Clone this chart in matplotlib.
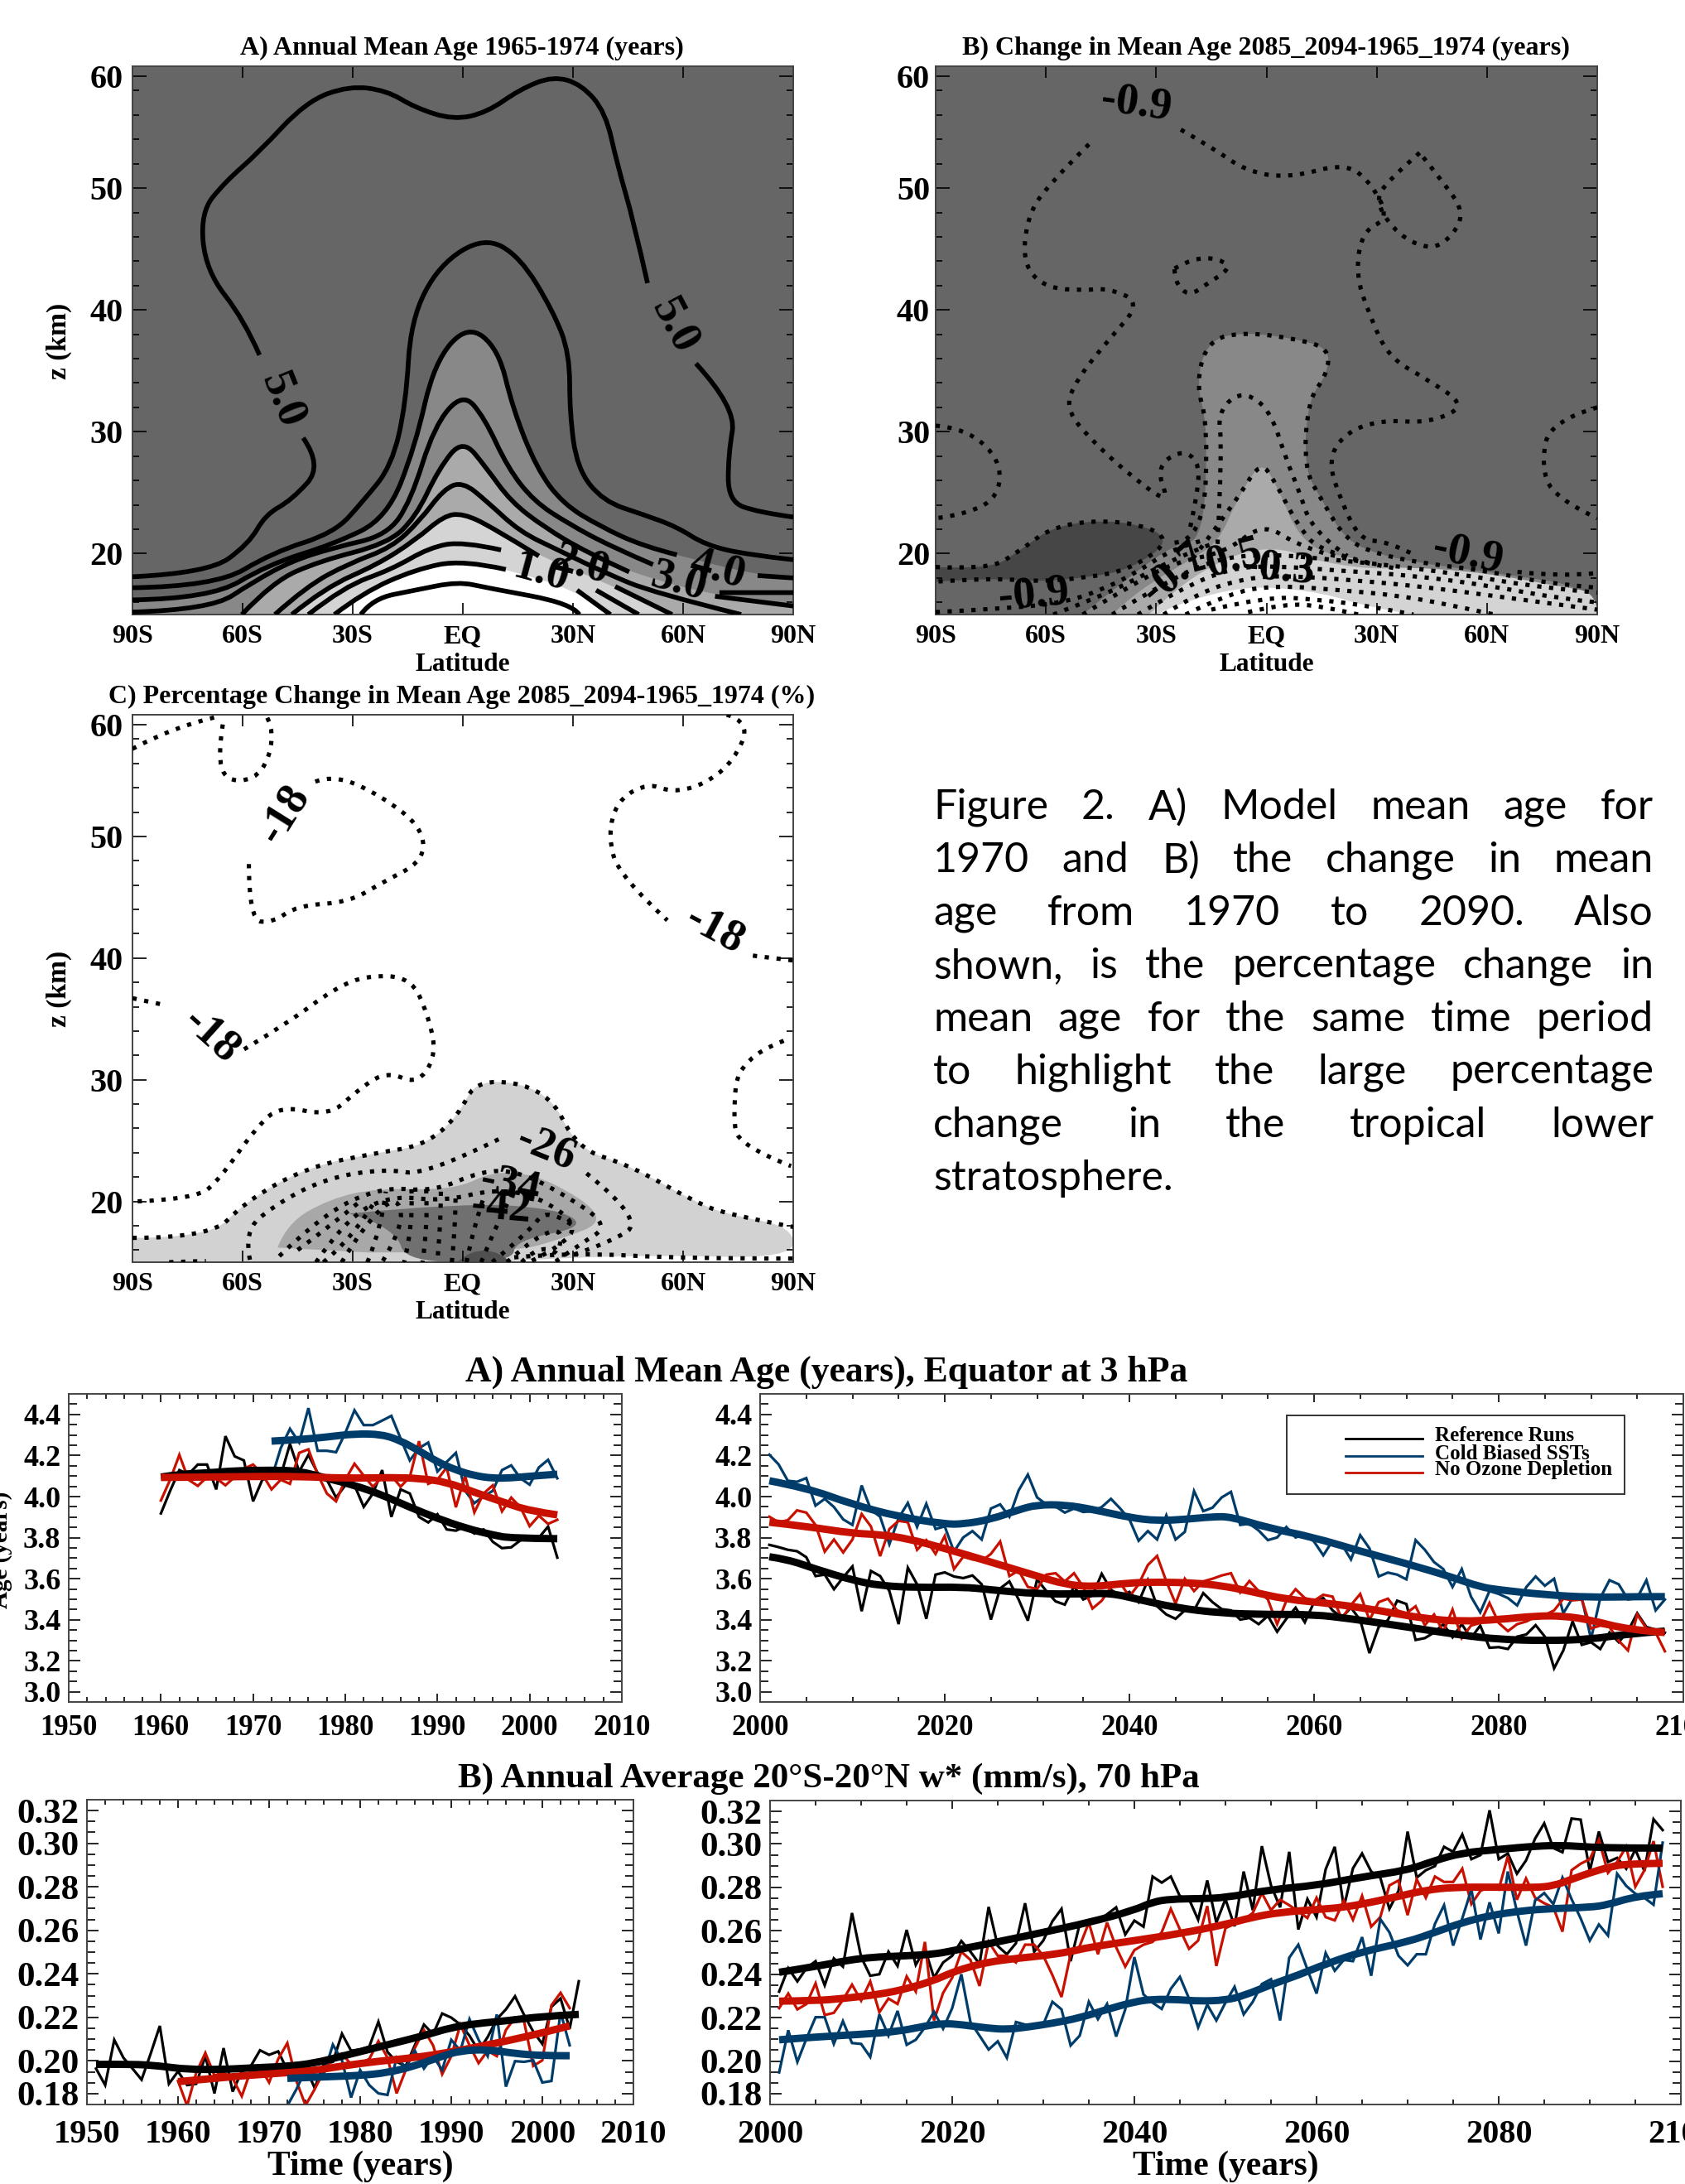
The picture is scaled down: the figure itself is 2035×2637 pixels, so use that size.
import numpy as np
import matplotlib
matplotlib.use("Agg")
import matplotlib.pyplot as plt
from matplotlib.lines import Line2D
from matplotlib.patches import PathPatch, Rectangle
from matplotlib.path import Path

W = 2035
H = 2637
nan = np.nan
plt.rcParams['font.family'] = ['Liberation Serif', 'DejaVu Serif']
plt.rcParams['font.weight'] = 'bold'

NAVY = '#003c6a'
RED = '#c81000'

# panel A contours (lat, z)
a50 = [[-90, 18.1], [-69.3, 18.4], [-58.3, 20.8], [-53.8, 23.2], [-46.6, 24.4], [-38.2, 27.2], [-43.5, 29.5], [nan, nan],
       [-55.4, 36.3], [-59.6, 39.2], [-70, 43.2], [-71.5, 48], [-64.8, 50.5], [-55.7, 52.9], [-42.7, 57.1], [-31, 58.4],
       [-20.7, 58], [-13, 56.6], [-2.6, 55.6], [6.5, 56.2], [15.5, 58.1], [24.6, 59.2], [32.4, 58.5], [38.9, 56.2],
       [42, 52], [46.6, 47.2], [50.3, 42.2], [nan, nan], [63.5, 35.6], [74.5, 32], [72.3, 28.1], [72.3, 24.3], [80.3, 23.4], [90, 23]]
a45 = [[-90, 17.2], [-67.4, 17.3], [-51.8, 20.1], [-35, 21.7], [-27.2, 24.3], [-19.4, 27.2], [-15.5, 32.3], [-14.2, 39.2],
       [-6.5, 43.7], [5.8, 46], [15.5, 44.4], [24.6, 39.9], [29.1, 36.4], [29.1, 31.6], [31.1, 27], [38.2, 24.3],
       [49.2, 23.2], [58.3, 22.2], [66.1, 20.7], [77.7, 19.9], [90, 19.5]]
a40 = [[-90, 16.2], [-68.7, 16.3], [-53.1, 19.1], [-35, 20.8], [-20.7, 22.9], [-13, 28.8], [-7.8, 35.7], [1.3, 38.8],
       [9.7, 36.8], [13.6, 31.9], [20.1, 27], [27.2, 24.1], [37.6, 22.2], [49.2, 20.6], [58.3, 19.9], [nan, nan], [80.3, 18.2], [90, 18]]
a35 = [[-90, 15.2], [-68.7, 15.4], [-57, 17.7], [-46.6, 19.4], [-35, 20.5], [-20.7, 21.5], [-14.2, 24.3], [-7.8, 30.5],
       [0, 33.2], [5.8, 31.2], [12.3, 27], [19.4, 24.3], [28.5, 22.5], [40.2, 20.6], [51.8, 19.1], [nan, nan], [69.9, 16.8], [90, 16.8]]
a30 = [[-60.2, 15], [-51.8, 17.7], [-38.9, 19.4], [-20.7, 20.8], [-13, 22.9], [-6.5, 27], [0, 29.4], [6.5, 27], [13, 24.3],
       [22, 22.2], [33.7, 20.1], [45.3, 18.5], [nan, nan], [68.7, 16.5], [90, 15.7]]
a25 = [[-51.2, 15], [-42.7, 17.3], [-31, 19.2], [-19.4, 20.5], [-11.7, 22.7], [-5.2, 25.3], [0, 25.9], [6.5, 24.3],
       [15.5, 21.8], [25.9, 20.3], [38.9, 18.4], [51.8, 16.8], [75.8, 15]]
a20 = [[-46.6, 15], [-37.6, 17.2], [-23.3, 19.1], [-13, 21.1], [-5.2, 23.1], [0, 23.3], [7.8, 22.2], [20.7, 19.8], [nan, nan],
       [41.5, 17.3], [57, 15]]
a15 = [[-42.1, 15], [-32.4, 17.3], [-19.4, 18.7], [-9.1, 20.5], [0, 21], [10.4, 20.3], [nan, nan], [36.3, 17], [47.9, 15]]
a10 = [[-35, 15], [-27.2, 16.8], [-13, 18.7], [0, 19.5], [11.7, 18.7], [nan, nan], [31.1, 17], [40.2, 15]]
a05 = [[-27.8, 15], [-24.6, 16.3], [-13, 17], [-1.3, 17.7], [6.5, 17.2], [29.8, 15.9], [31.7, 15]]
a_lines = [a50, a45, a40, a35, a30, a25, a20, a15, a10, a05]
a_labels = [['5.0', -49.2, 32.6, -68], ['5.0', 57.6, 38.7, -62], ['1.0', 21.4, 18.4, -15], ['2.0', 32.4, 19, -15],
            ['3.0', 58.9, 17.7, -15], ['4.0', 69.3, 18.7, -15]]

# panel B contours and shaded areas
b_main = [[-48.3, 53.6], [-60, 50.1], [-65.2, 47.5], [-66.2, 43.7], [-60, 41.8], [-49.6, 41.6], [-43.1, 41.8], [-34, 40.6],
          [-43.1, 37.5], [-51.6, 34.3], [-54.8, 31.9], [-47, 29.1], [-35.4, 26], [-26.3, 24.1], [-30, 27], [-23.7, 28.5],
          [-18.5, 27.7], [-18.5, 25.2], [-21, 21.8]]
b_top = [[-23.3, 54.8], [-14.6, 53.3], [-5.6, 51.4], [6.1, 50.8], [21.6, 52.1], [28.8, 50.3], [33.3, 47.5], [26.2, 46.5],
         [24.2, 43], [28.1, 39.5], [33.3, 36.1], [43.7, 34.3], [54.7, 32.1], [43.7, 30.7], [32, 31], [21.6, 30], [16.7, 27.7],
         [20.3, 24.3], [25.5, 21.1], [33, 21], [41, 19.8], [nan, nan], [68.3, 18.5], [80, 18.1], [90, 18.4]]
b_loop1 = [[41.7, 52.9], [33.3, 50.7], [29.4, 48.9], [35.9, 46.1], [44.9, 44.9], [50.8, 46.1], [53.8, 48.1], [47.5, 50.7], [41.7, 52.9]]
b_loop2 = [[-25, 43.4], [-19.8, 44.3], [-12.7, 44.2], [-9.7, 43.4], [-15.9, 42.2], [-21.1, 41.1], [-25, 42.3], [-25, 43.4]]
b_left = [[-90, 30.5], [-81.9, 30.3], [-72.3, 27.7], [-72.9, 24.6], [-82, 23.2], [-90, 22.9]]
b_right = [[90, 32], [77.3, 30.9], [74.7, 27.4], [78, 24.6], [90, 22.9]]
b_07 = [[-25, 20.9], [-17.2, 21.1], [-15.9, 30.5], [-19.2, 34], [-15.9, 37.5], [-6.2, 38.2], [8.7, 37.6], [17.1, 36.8], [16.5, 34.7],
        [11.3, 32.6], [10.2, 27], [15.2, 24.3], [21.6, 21.1], [30.7, 19.9], [45, 19.1], [60, 18.6], [75, 17.6], [90, 17.2]]
b_05 = [[-13.3, 20.8], [-12, 28.8], [-13.3, 31.6], [-6.9, 33.4], [0.9, 31.9], [5.4, 27.7], [8.7, 25.3], [12.6, 21.8], [22, 19.8]]
b_03 = [[-20, 19.6], [-8.2, 24.3], [-1.7, 27.6], [2.2, 26], [8.7, 22.2], [15, 20.1], [30, 19.1]]
b_dark = [[-90, 18.9], [-75.5, 18.7], [-67.7, 20.1], [-57.4, 22.4], [-39.2, 22.8], [-25, 21.3], [-36.7, 18.7], [-49.6, 18],
          [-62.6, 17.7], [-75, 18], [-90, 17.7]]
b_low = [[[-90, 15.2], [-70, 15.5], [-55, 16], [-45, 17], [-35, 18.5], [-25, 20.5], [-17, 21.1]],
         [[-58, 15], [-45, 16.5], [-35, 18], [-22, 20], [-13, 21]],
         [[-50, 15], [-38, 17.2], [-25, 19.3], [-11, 20.1], [-1, 22.5], [8, 20.8], [20, 19.6], [35, 18.8]],
         [[-42, 15], [-30, 17.2], [-15, 19.5], [0, 20], [18, 19.5], [35, 19], [55, 18.2], [75, 17.2], [90, 16.8]],
         [[-35, 15], [-24, 17], [-10, 18.8], [2, 19], [20, 18.6], [40, 18.2], [60, 17.4], [80, 16.3], [90, 16]],
         [[-28, 15], [-18, 16.9], [-5, 18], [5, 18.2], [25, 17.8], [45, 17.2], [65, 16.4], [90, 15.4]],
         [[-22, 15], [-10, 16.8], [3, 17.4], [20, 17], [35, 16.6], [50, 15.8], [62, 15]],
         [[-15, 15.4], [0, 16.5], [15, 16.2], [28, 15.7], [40, 15]],
         [[-5, 15.2], [5, 15.9], [15, 15.7], [25, 15]]]
b_grey1 = [[-50, 15], [-40, 17.5], [-25, 20.8], [-17.2, 21.1], [-15.9, 30.5], [-19.2, 34], [-15.9, 37.5], [-6.2, 38.2], [8.7, 37.6],
           [17.1, 36.8], [16.5, 34.7], [11.3, 32.6], [10.2, 27], [15.2, 24.3], [21.6, 21.1], [30, 20], [40, 19.3], [60, 18.5], [90, 17.2], [90, 15]]
b_grey2 = [[-42, 15], [-35, 17], [-20, 19.6], [-13, 21], [-8.2, 24.3], [-1.7, 27.6], [2.2, 26], [10, 20.5], [25, 19.5], [40, 18.7],
           [60, 17.8], [90, 16], [90, 15]]
b_grey3 = [[-32, 15], [-25, 17], [-15, 19], [-5, 20.3], [5, 20.4], [12, 19.5], [28, 18.7], [40, 18.9], [60, 18.4], [80, 17.3], [90, 16.8], [90, 15]]
b_white = [[-30, 15], [-23.7, 15.9], [-10.8, 17], [-0.4, 17.3], [15, 16.8], [28, 15.6], [40, 15]]
b_labels = [['-0.9', -35.4, 56.9, -8], ['-0.9', 54.7, 19.9, -12], ['-0.9', -63.2, 16.6, 5], ['-0.7', -25, 18.4, 40],
            ['-0.5', -10.8, 19.4, 15], ['-0.3', 3.5, 18.7, -5]]

# panel C contours and shaded areas
c_lines = [[[-90, 57.2], [-79, 59], [-67.4, 59.8]],
           [[-65.4, 59.2], [-66.7, 56.8], [-64.8, 54.6], [-57, 54.6], [-52.5, 56.5], [-51.8, 59.2], [-53.8, 60]],
           [[-40.2, 54.5], [-35, 55.1], [-22, 53.3], [-11, 50.7], [-10.6, 48], [-22, 46.2], [-31, 44.6], [-45.3, 44.3],
            [-51.8, 42.9], [-58.3, 43.1], [-58.3, 48]],
           [[71.9, 60], [78.4, 59.4], [73.8, 56.2], [66, 54.3], [57, 53.6], [50.5, 54.4], [42.1, 53], [39.5, 50], [42.7, 46.7],
            [55.7, 43.1], [nan, nan], [79, 40.2], [90, 39.8]],
           [[-90, 36.7], [-82.2, 36.2], [nan, nan], [-59.6, 32.5], [-48, 34.6], [-35, 37.5], [-25.9, 38.6], [-14.2, 38.4], [-9.7, 35.5],
            [-7.1, 32.1], [-12.3, 29.6], [-20.7, 30.7], [-28.5, 29.2], [-36.3, 27], [-49.9, 27.9], [-57, 25.8], [-66.1, 21.9],
            [-72.5, 20.2], [-88.7, 20]],
           [[87.4, 33.2], [75.1, 31.8], [73.6, 27], [75.1, 24.6], [89.4, 22.9]],
           [[-90, 17], [-68.7, 17], [-59.6, 19.9], [-42.7, 22.8], [-23.3, 24], [-10.4, 24.6], [-1.3, 27], [3.9, 30.2], [23.3, 29.2],
            [31.1, 24.3], [45.3, 23], [63.5, 19.9], [72.5, 18.9], [90, 17.9]],
           [[-58, 15.2], [-59.6, 17.5], [-51.8, 19.6], [-37.6, 21.9], [-20.7, 22.7], [-10.4, 22.1], [10.4, 25.2], [nan, nan], [33.7, 22.3],
            [49.9, 18.4], [38.9, 16.5], [30, 15.6]],
           [[-50, 15.5], [-38, 19], [-22, 21.2], [-8, 20.8], [5, 22.5], [15, 22.5], [28, 20.5], [40, 18], [32, 16.5], [25, 15]],
           [[-40, 15], [-32, 18.5], [-20, 20.5], [-5, 20], [8, 21], [20, 20.5], [32, 18], [25, 16], [18, 15]],
           [[-33, 15], [-27, 18], [-18, 20.6], [-16, 18], [-22, 15]],
           [[-14, 21], [-13.5, 18], [-16, 15]],
           [[-10, 21], [-9.5, 18], [-11, 15]],
           [[-6, 20.8], [-6, 18], [-7, 15]],
           [[-26, 15], [-22, 18], [-21, 20.8]],
           [[-45, 16], [-36, 18], [-28, 20]],
           [[-38, 15], [-30, 17], [-24, 20]],
           [[-3, 15], [-2, 18], [-2, 20.3]],
           [[1, 15], [3, 18], [6, 20.6]],
           [[5, 15], [9, 18], [14, 21]],
           [[8, 15], [18, 17.5], [23, 19.5], [30, 18]],
           [[12, 15], [20, 17.2], [28, 17.8], [26, 16]],
           [[16, 15], [22, 16.8], [26, 15.6]],
           [[-80, 15], [-70, 15.1]],
           [[14, 15.4], [30, 15.8], [60, 15.3], [90, 15.3]]]
c_grey1 = [[-90, 17], [-68.7, 17], [-59.6, 19.9], [-42.7, 22.8], [-23.3, 24], [-10.4, 24.6], [-1.3, 27], [3.9, 30.2], [23.3, 29.2],
           [31.1, 24.3], [45.3, 23], [63.5, 19.9], [72.5, 18.9], [90, 17.9], [90, 15.3], [51.8, 15.6], [16, 15.2], [16, 15], [-90, 15]]
c_grey2 = [[-50.5, 16.2], [-47.9, 18.2], [-36.3, 20.2], [-23.3, 21.1], [-2.6, 20.9], [9.1, 22.6], [23.3, 21.9], [40.2, 18.5],
           [25.9, 16.8], [13, 15.8], [-25.9, 15.8]]
c_grey3 = [[-31, 19], [0, 19.9], [25.9, 19.4], [33.7, 17.9], [14.2, 16.8], [13.6, 15], [-15.5, 15], [-18, 17.5], [-25.9, 18.5]]
c_grey4 = [[-1.5, 15], [2, 16], [10, 15.9], [13, 15]]
c_labels = [['-18', -48.6, 51.8, 58], ['-18', 68.7, 42.3, -28], ['-18', -68.7, 33.6, -42], ['-26', 22.7, 24.3, -22],
            ['-34', 13, 21.3, -12], ['-42', 10.4, 19.4, -5]]

# age at the equator, 1960-2003
age_left_black = [3.918, 4.028, 4.129, 4.109, 4.156, 4.156, 4.035, 4.294, 4.196, 4.176, 3.977, 4.082, 4.095, 4.102, 4.256, 4.122,
                  4.203, 4.115, 4.082, 3.995, 4.055, 4.055, 3.950, 4.015, 4.129, 3.901, 4.035, 4.015, 3.901, 3.874, 3.914, 3.840,
                  3.834, 3.854, 3.820, 3.840, 3.780, 3.749, 3.753, 3.787, 3.800, 3.800, 3.854, 3.703]
age_left_red = [3.981, 4.082, 4.203, 4.082, 4.052, 4.095, 4.089, 4.055, 4.095, 4.136, 4.156, 4.109, 4.035, 4.082, 4.062, 4.213,
                4.230, 4.109, 4.015, 3.977, 4.082, 4.160, 4.102, 4.048, 4.095, 4.102, 4.048, 4.095, 4.270, 4.062, 4.082, 4.142,
                3.948, 4.102, 3.923, 4.015, 4.055, 3.928, 3.995, 3.948, 3.856, 3.907, 3.867, 3.887]
age_left_blue = [4.089, 4.236, 4.330, 4.263, 4.431, 4.223, 4.223, 4.216, 4.310, 4.420, 4.348, 4.348, 4.370, 4.393, 4.283, 4.176,
                 4.236, 4.263, 4.122, 4.169, 4.213, 4.028, 3.968, 4.001, 4.028, 4.129, 4.152, 4.089, 4.058, 4.142, 4.179, 4.089]
age_left_black_s = [[1960, 4.095], [1962, 4.109], [1965, 4.115], [1968, 4.126], [1972, 4.129], [1975, 4.125], [1978, 4.089], [1981, 4.055],
                    [1984, 4.008], [1987, 3.948], [1990, 3.894], [1993, 3.847], [1996, 3.813], [1998, 3.797], [2003, 3.795]]
age_left_red_s = [[1960, 4.093], [1965, 4.095], [1970, 4.098], [1975, 4.098], [1980, 4.089], [1985, 4.093], [1988, 4.089], [1991, 4.071],
                  [1994, 4.021], [1997, 3.975], [2000, 3.930], [2003, 3.911]]
age_left_blue_s = [[1972, 4.270], [1975, 4.277], [1978, 4.290], [1981, 4.306], [1984, 4.303], [1986, 4.272], [1988, 4.223], [1990, 4.169],
                   [1992, 4.129], [1994, 4.102], [1996, 4.089], [1998, 4.091], [2000, 4.099], [2003, 4.109]]

# age at the equator, 2001-2098
age_right_black = [3.765, 3.754, 3.741, 3.734, 3.705, 3.613, 3.62, 3.549, 3.607, 3.66, 3.442, 3.638, 3.613, 3.54, 3.379, 3.654, 3.573,
                   3.405, 3.62, 3.631, 3.611, 3.603, 3.616, 3.573, 3.401, 3.553, 3.587, 3.499, 3.396, 3.597, 3.54, 3.49, 3.474, 3.562,
                   3.499, 3.519, 3.624, 3.546, 3.519, 3.536, 3.486, 3.593, 3.466, 3.426, 3.405, 3.446, 3.446, 3.53, 3.486, 3.452,
                   3.446, 3.401, 3.409, 3.379, 3.419, 3.342, 3.405, 3.459, 3.388, 3.486, 3.506, 3.446, 3.412, 3.459, 3.399, 3.238,
                   3.365, 3.399, 3.493, 3.477, 3.302, 3.311, 3.338, 3.379, 3.315, 3.379, 3.311, 3.372, 3.264, 3.267, 3.258, 3.318,
                   3.329, 3.374, 3.318, 3.164, 3.251, 3.392, 3.278, 3.291, 3.258, 3.338, 3.291, 3.345, 3.432, 3.365, 3.352, 3.338]
age_right_red = [3.902, 3.875, 3.885, 3.933, 3.922, 3.862, 3.732, 3.791, 3.728, 3.791, 3.915, 3.855, 3.71, 3.842, 3.882, 3.875, 3.741,
                 3.788, 3.721, 3.808, 3.647, 3.707, 3.694, 3.687, 3.721, 3.781, 3.613, 3.64, 3.56, 3.55, 3.62, 3.627, 3.587, 3.627,
                 3.56, 3.455, 3.493, 3.56, 3.58, 3.513, 3.573, 3.667, 3.711, 3.587, 3.479, 3.6, 3.54, 3.587, 3.6, 3.616,
                 3.627, 3.533, 3.589, 3.54, 3.499, 3.379, 3.493, 3.549, 3.506, 3.493, 3.522, 3.513, 3.405, 3.472, 3.526, 3.399,
                 3.486, 3.503, 3.446, 3.432, 3.466, 3.374, 3.426, 3.342, 3.45, 3.311, 3.372, 3.385, 3.482, 3.385, 3.345, 3.379,
                 3.392, 3.415, 3.423, 3.446, 3.503, 3.495, 3.499, 3.358, 3.372, 3.365, 3.298, 3.251, 3.426, 3.358, 3.338, 3.247]
age_right_blue = [4.204, 4.157, 4.077, 4.072, 4.09, 3.956, 3.989, 3.949, 3.889, 3.862, 4.054, 3.936, 3.902, 3.768, 3.895, 3.969, 3.852,
                  3.965, 3.842, 3.855, 3.732, 3.801, 3.832, 3.791, 3.942, 3.962, 3.902, 4.03, 4.107, 3.996, 3.962, 3.952, 3.922, 3.942,
                  3.925, 3.929, 3.949, 3.989, 3.942, 3.889, 3.785, 3.832, 3.791, 3.909, 3.791, 3.828, 4.027, 3.929, 3.946, 3.996,
                  4.023, 3.862, 3.868, 3.835, 3.788, 3.801, 3.852, 3.801, 3.817, 3.781, 3.714, 3.784, 3.768, 3.694, 3.812, 3.748,
                  3.611, 3.63, 3.62, 3.597, 3.788, 3.741, 3.681, 3.647, 3.56, 3.647, 3.513, 3.436, 3.54, 3.526, 3.506, 3.47, 3.56,
                  3.611, 3.566, 3.6, 3.432, 3.506, 3.506, 3.307, 3.506, 3.593, 3.573, 3.499, 3.506, 3.593, 3.446, 3.499]
age_right_black_s = [[2001, 3.707], [2003, 3.694], [2006, 3.647], [2010, 3.593], [2013, 3.566], [2017, 3.557], [2022, 3.56], [2025, 3.546],
                     [2030, 3.526], [2035, 3.526], [2038, 3.53], [2041, 3.499], [2045, 3.459], [2050, 3.432], [2055, 3.426], [2060, 3.426],
                     [2064, 3.405], [2068, 3.379], [2072, 3.352], [2076, 3.325], [2080, 3.305], [2085, 3.298], [2090, 3.305], [2094, 3.332], [2098, 3.345]]
age_right_red_s = [[2001, 3.875], [2005, 3.855], [2010, 3.821], [2013, 3.815], [2016, 3.795], [2020, 3.748], [2025, 3.681], [2030, 3.613],
                   [2033, 3.573], [2036, 3.56], [2040, 3.58], [2043, 3.584], [2047, 3.58], [2050, 3.566], [2053, 3.54], [2057, 3.499], [2062, 3.479],
                   [2067, 3.446], [2072, 3.405], [2076, 3.392], [2080, 3.401], [2084, 3.419], [2087, 3.419], [2090, 3.399], [2094, 3.352], [2098, 3.338]]
age_right_blue_s = [[2001, 4.077], [2005, 4.043], [2010, 3.962], [2015, 3.902], [2020, 3.866], [2022, 3.866], [2025, 3.889], [2028, 3.936],
                    [2030, 3.96], [2033, 3.96], [2036, 3.938], [2040, 3.898], [2043, 3.882], [2046, 3.889], [2049, 3.902], [2051, 3.902], [2055, 3.848],
                    [2060, 3.801], [2065, 3.734], [2070, 3.674], [2075, 3.607], [2078, 3.56], [2080, 3.546], [2085, 3.522], [2090, 3.509], [2095, 3.513], [2098, 3.513]]

# w* at 70 hPa, 1951-2004
w_left_black = [.1965, .1889, .2097, .2015, .1965, .1914, .2034, .2161, .1895, .1952, .1889, .1895, .2022, .1851, .2059, .1859, .1952, .1977,
                .2049, .2028, .2044, .1958, .1958, .1971, .1876, .1984, .1996, .2125, .2047, .2053, .2066, .2180, .2041, .1996, .1977, .2072,
                .2167, .2123, .2218, .2199, .2167, .2116, .2047, .2110, .2192, .2237, .2297, .2211, .2135, .2078, .2249, .2287, .2148, .2366]
w_left_red = [.1908, .1794, .1946, .2037, .1933, .1946, .1920, .1838, .1958, .1973, .1901, .2009, .2082, .1908, .1796, .1870, .1952, .2015, .2034,
              .1984, .1990, .2009, .2091, .2015, .1851, .1958, .2059, .2142, .2072, .1939, .2022, .2167, .2072, .1990, .2047, .2022, .2142, .2199,
              .2180, .1977, .2003, .2256, .2313, .2243]
w_left_blue = [.1794, .1870, .1958, .1920, .1939, .2075, .2003, .1832, .1958, .1889, .1851, .1844, .2015, .1971, .2047, .1965, .2022, .1958, .2097,
               .2047, .2192, .2097, .2022, .2214, .1882, .1999, .1996, .2003, .1901, .1908, .2224, .2072]
w_left_black_s = [[1951, .1984], [1955, .1986], [1958, .1977], [1961, .1961], [1965, .1961], [1968, .1968], [1972, .1975], [1975, .1990], [1978, .2022],
                  [1981, .2053], [1984, .2085], [1987, .2116], [1990, .2154], [1993, .2173], [1996, .2184], [2000, .2205], [2004, .2214]]
w_left_red_s = [[1960, .1905], [1964, .1920], [1968, .1935], [1972, .1946], [1975, .1956], [1978, .1977], [1982, .1999], [1986, .2015], [1990, .2041],
                [1993, .2066], [1996, .2091], [2000, .2129], [2003, .2161]]
w_left_blue_s = [[1972, .1920], [1976, .1927], [1980, .1933], [1983, .1946], [1986, .1977], [1989, .2022], [1991, .2047], [1994, .2053], [1997, .2034],
                 [2000, .2024], [2003, .2024]]

# w* at 70 hPa, 2001-2098
w_right_black = [.2320, .2428, .2367, .2428, .2460, .2349, .2473, .2435, .2682, .2479, .2393, .2400, .2504, .2438, .2604, .2443, .2517, .2384, .2454, .2485,
                 .2553, .2504, .2447, .2710, .2530, .2492, .2543, .2727, .2504, .2555, .2644, .2701, .2460, .2632, .2632, .2644, .2676, .2708, .2583, .2647,
                 .2619, .2850, .2822, .2850, .2759, .2746, .2651, .2832, .2638, .2746,
                 .2621, .2873, .2695, .2990, .2809, .2708, .2964, .2606, .2746, .2663, .2883, .2987, .2708, .2888, .2956, .2873, .2845, .2701, .2784, .3057,
                 .2845, .2879, .2898, .2987, .2964, .3044, .2930, .2949, .3155, .2930, .2956, .2863, .2924, .3025, .3095, .2981, .2962, .3117, .3112, .2875,
                 .3057, .2917, .2936, .2886, .2975, .2875, .3114, .3064]
w_right_red = [.2244, .2311, .2238, .2263, .2358, .2212, .2222, .2282, .2352, .2278, .2367, .2225, .2288, .2263, .2390, .2320, .2549, .2187, .2314, .2384,
               .2504, .2466, .2346, .2549, .2485, .2485, .2454, .2536, .2536, .2485, .2396, .2295, .2492, .2530, .2638, .2492, .2638, .2524, .2435, .2511,
               .2536, .2549, .2593, .2701, .2606, .2517, .2555, .2714, .2438, .2612,
               .2632, .2651, .2682, .2774, .2695, .2743, .2718, .2689, .2659, .2752, .2663, .2648, .2740, .2651, .2761, .2619, .2663, .2809, .2832, .2672,
               .2837, .2752, .2850, .2825, .2825, .2886, .2723, .2784, .2803, .2790, .2943, .2743, .2841, .2752, .2727, .2708, .2596, .2879, .2909, .2930,
               .3019, .2867, .2917, .2987, .2803, .2879, .3013, .2803]
w_right_blue = [.1948, .2142, .1996, .2104, .2202, .2202, .2079, .2184, .2083, .2079, .2019, .2215, .2117, .2231, .2075, .2098, .2155, .2227, .2149, .2244,
                .2400, .2180, .2117, .2053, .2091, .2015, .2180, .2168, .2155, .2168, .2273, .2238, .2072, .2117, .2273, .2193, .2263, .2113, .2238, .2479,
                .2307, .2269, .2240, .2333, .2388, .2288, .2155, .2260, .2187, .2269,
                .2342, .2215, .2273, .2355, .2377, .2187, .2476, .2536, .2422, .2311, .2498, .2416, .2466, .2460, .2571, .2393, .2654, .2593, .2485, .2441,
                .2492, .2492, .2632, .2718, .2532, .2657, .2790, .2560, .2731, .2588, .2873, .2689, .2532, .2740, .2774, .2723, .2845, .2746, .2657, .2555,
                .2629, .2578, .2863, .2807, .2771, .2752, .2720, .3006]
w_right_black_s = [[2001, .2409], [2005, .2435], [2010, .2476], [2015, .2485], [2018, .2492], [2020, .2508], [2025, .2549], [2030, .2593], [2035, .2638],
                   [2040, .2695], [2042, .2733], [2044, .2746], [2047, .2748], [2050, .2752], [2055, .2790], [2060, .2809], [2065, .2848], [2070, .2879], [2073, .2924],
                   [2076, .2959], [2080, .2975], [2084, .2990], [2087, .2994], [2090, .2985], [2094, .2981], [2098, .2981]]
w_right_red_s = [[2001, .2276], [2005, .2278], [2008, .2288], [2012, .2307], [2015, .2333], [2018, .2371], [2020, .2409], [2022, .2435], [2024, .2456],
                 [2027, .2473], [2030, .2485], [2033, .2504], [2035, .2524], [2040, .2555], [2045, .2587], [2050, .2629], [2053, .2663], [2056, .2685], [2060, .2698],
                 [2063, .2708], [2066, .2731], [2069, .2759], [2072, .2787], [2075, .2801], [2080, .2801], [2084, .2799], [2086, .2807], [2088, .2837], [2090, .2867],
                 [2092, .2892], [2094, .2909], [2098, .2911]]
w_right_blue_s = [[2001, .2098], [2005, .2111], [2010, .2123], [2014, .2136], [2017, .2161], [2019, .2174], [2021, .2168], [2024, .2151], [2026, .2146],
                  [2028, .2155], [2031, .2174], [2034, .2199], [2037, .2238], [2040, .2273], [2042, .2285], [2045, .2283], [2047, .2276], [2050, .2280], [2052, .2301],
                  [2055, .2352], [2058, .2396], [2061, .2447], [2065, .2504], [2070, .2549], [2073, .2593], [2076, .2638], [2079, .2670], [2082, .2689], [2085, .2701],
                  [2090, .2708], [2092, .2720], [2095, .2759], [2098, .2771]]

lat_ticks = [-90, -60, -30, 0, 30, 60, 90]
lat_names = ['90S', '60S', '30S', 'EQ', '30N', '60N', '90N']
z_ticks = [20, 30, 40, 50, 59.2]
z_names = ['20', '30', '40', '50', '60']
age_ticks = [3.05, 3.2, 3.4, 3.6, 3.8, 4.0, 4.2, 4.4]
age_names = ['3.0', '3.2', '3.4', '3.6', '3.8', '4.0', '4.2', '4.4']
w_ticks = [.185, .20, .22, .24, .26, .28, .30, .315]
w_names = ['0.18', '0.20', '0.22', '0.24', '0.26', '0.28', '0.30', '0.32']
left_years = [1950, 1960, 1970, 1980, 1990, 2000, 2010]
right_years = [2000, 2020, 2040, 2060, 2080, 2100]

note_lines = ['Figure 2. A) Model mean age for', '1970 and B) the change in mean', 'age from 1970 to 2090. Also',
              'shown, is the percentage change in', 'mean age for the same time period', 'to highlight the large percentage',
              'change in the tropical lower', 'stratosphere.']
legend_names = ['Reference Runs', 'Cold Biased SSTs', 'No Ozone Depletion']


def axes_px(fig, x0, y0, x1, y1):
    return fig.add_axes([x0 / W, 1 - y1 / H, (x1 - x0) / W, (y1 - y0) / H])


def lat_axes(fig, x0, y0, x1, y1, pad_y=8):
    ax = axes_px(fig, x0, y0, x1, y1)
    ax.set_xlim(-90, 90)
    ax.set_ylim(15, 60)
    ax.set_xticks(lat_ticks, lat_names, fontsize=23)
    ax.set_yticks(z_ticks, z_names, fontsize=29)
    ax.set_yticks(np.arange(16, 60, 2), minor=True)
    ax.tick_params(axis='x', which='major', direction='in', top=True, length=10, width=1.2, pad=9)
    ax.tick_params(axis='y', which='major', direction='in', right=True, length=12, width=1.2, pad=pad_y)
    ax.tick_params(axis='y', which='minor', direction='in', right=True, length=6, width=1.2)
    ax.set_xlabel('Latitude', fontsize=22.5, fontweight='bold', labelpad=3)
    for s in ax.spines.values():
        s.set_color('#444444')
        s.set_linewidth(1.4)
    return ax


def time_axes(fig, x0, y0, x1, y1, years, minor_step, yticks, ynames, ylim, yminor, fx, fy, pad_x):
    ax = axes_px(fig, x0, y0, x1, y1)
    ax.set_xlim(years[0], years[-1])
    ax.set_ylim(*ylim)
    ax.set_xticks(years, years, fontsize=fx)
    ax.set_xticks(np.arange(years[0], years[-1] + 1, minor_step), minor=True)
    ax.set_yticks(yticks, ynames, fontsize=fy)
    ax.set_yticks(yminor, minor=True)
    ax.tick_params(axis='x', which='major', direction='in', top=True, length=7, width=1.2, pad=pad_x)
    ax.tick_params(axis='x', which='minor', direction='in', top=True, length=4, width=1.2)
    ax.tick_params(axis='y', which='major', direction='in', right=True, length=10, width=1.2, pad=7)
    ax.tick_params(axis='y', which='minor', direction='in', right=True, length=7, width=1.2)
    for s in ax.spines.values():
        s.set_color('#444444')
        s.set_linewidth(1.4)
    return ax


def curve(pts):
    # quadratic path with the read points as control points, so the corners come out round
    n = len(pts)
    if n < 3:
        return [tuple(p) for p in pts], [Path.MOVETO] + [Path.LINETO] * (n - 1)
    verts = [tuple(pts[0])]
    codes = [Path.MOVETO]
    for i in range(1, n - 1):
        end = pts[n - 1] if i == n - 2 else (pts[i] + pts[i + 1]) / 2
        verts += [tuple(pts[i]), tuple(end)]
        codes += [Path.CURVE3, Path.CURVE3]
    return verts, codes


def smooth_path(pts):
    pts = np.array(pts, dtype=float)
    verts = []
    codes = []
    start = 0
    for i in range(len(pts) + 1):
        if i == len(pts) or np.isnan(pts[i, 0]):
            v, c = curve(pts[start:i])
            verts += v
            codes += c
            start = i + 1
    return Path(verts, codes)


def fill_under(ax, pts, color):
    pts = np.array(pts, dtype=float)
    pts = pts[np.isfinite(pts[:, 0])]
    v, c = curve(pts)
    v = v + [(90, 15), (-90, 15), v[0]]
    c = c + [Path.LINETO, Path.LINETO, Path.CLOSEPOLY]
    ax.add_patch(PathPatch(Path(v, c), fc=color, lw=0, zorder=1))


def poly(ax, pts, color, z=1):
    v, c = curve(np.array(pts, dtype=float))
    v = v + [v[0]]
    c = c + [Path.CLOSEPOLY]
    ax.add_patch(PathPatch(Path(v, c), fc=color, lw=0, zorder=z))


def draw(ax, pts, dotted=False):
    p = smooth_path(pts)
    if dotted:
        ax.add_patch(PathPatch(p, fill=False, ec='black', lw=3.7, ls=(0, (1, 1.8)), capstyle='butt', zorder=3))
    else:
        ax.add_patch(PathPatch(p, fill=False, ec='black', lw=4.1, capstyle='butt', joinstyle='round', zorder=3))


def put_labels(ax, labels):
    for txt, la, zz, rot in labels:
        ax.text(la, zz, txt, fontsize=39, rotation=rot, ha='center', va='center', rotation_mode='anchor', zorder=4)


def series(ax, first, values, smooth, color):
    ax.plot(np.arange(first, first + len(values)), values, color=color, lw=2.3, solid_joinstyle='miter')
    ax.add_patch(PathPatch(smooth_path(smooth), fill=False, ec=color, lw=6.4, capstyle='butt', zorder=3))


fig = plt.figure(figsize=(W / 100, H / 100), dpi=100, facecolor='white')

# panel A
ax = lat_axes(fig, 160, 80, 958, 742)
ax.set_facecolor('#666666')
fill_under(ax, a40, '#888888')
fill_under(ax, a30, '#aaaaaa')
fill_under(ax, a20, '#d4d4d4')
fill_under(ax, a10, '#ffffff')
for line in a_lines:
    draw(ax, line)
put_labels(ax, a_labels)
fig.text(558 / W, 1 - 58 / H, 'A) Annual Mean Age 1965-1974 (years)', fontsize=23, ha='center', va='center')
fig.text(71 / W, 1 - 412 / H, 'z (km)', fontsize=24, rotation=90, ha='center', va='center')

# panel B
ax = lat_axes(fig, 1130, 80, 1929, 742, pad_y=5)
ax.set_facecolor('#666666')
poly(ax, b_dark, '#464646')
poly(ax, b_grey1, '#888888')
poly(ax, b_grey2, '#aaaaaa')
poly(ax, b_grey3, '#d4d4d4')
fill_under(ax, b_white, '#ffffff')
for line in [b_main, b_top, b_loop1, b_loop2, b_left, b_right, b_07, b_05, b_03, b_dark] + b_low:
    draw(ax, line, dotted=True)
put_labels(ax, b_labels)
fig.text(1529 / W, 1 - 58 / H, 'B) Change in Mean Age 2085_2094-1965_1974 (years)', fontsize=23, ha='center', va='center')

# panel C
ax = lat_axes(fig, 160, 863, 958, 1524)
poly(ax, c_grey1, '#d2d2d2')
poly(ax, c_grey2, '#a8a8a8')
poly(ax, c_grey3, '#707070')
poly(ax, c_grey4, '#505050')
for line in c_lines:
    draw(ax, line, dotted=True)
put_labels(ax, c_labels)
fig.text(558 / W, 1 - 841 / H, 'C) Percentage Change in Mean Age 2085_2094-1965_1974 (%)', fontsize=23, ha='center', va='center')
fig.text(71 / W, 1 - 1194 / H, 'z (km)', fontsize=24, rotation=90, ha='center', va='center')

# age panels
age_minor = np.arange(3.1, 4.5, 0.05)
ax = time_axes(fig, 83, 1683, 751, 2055, left_years, 2, age_ticks, age_names, (3.0, 4.5), age_minor, 25, 26, 11)
series(ax, 1960, age_left_black, age_left_black_s, 'black')
series(ax, 1972, age_left_blue, age_left_blue_s, NAVY)
series(ax, 1960, age_left_red, age_left_red_s, RED)

ax = time_axes(fig, 918, 1683, 2033, 2055, right_years, 5, age_ticks, age_names, (3.0, 4.5), age_minor, 25, 26, 11)
series(ax, 2001, age_right_black, age_right_black_s, 'black')
series(ax, 2001, age_right_blue, age_right_blue_s, NAVY)
series(ax, 2001, age_right_red, age_right_red_s, RED)

fig.text(998 / W, 1 - 1657 / H, 'A) Annual Mean Age (years), Equator at 3 hPa', fontsize=31.5, ha='center', va='center')
fig.text(2 / W, 1 - 1871 / H, 'Age (years)', fontsize=21, rotation=90, ha='center', va='center')

# legend box, drawn by hand as in the figure
fig.add_artist(Rectangle((1554 / W, 1 - 1804 / H), 408 / W, 95 / H, transform=fig.transFigure, fill=True,
                         facecolor='white', edgecolor='#333333', lw=1.4, zorder=5))
for yy, color, name in zip([1737, 1758, 1778], ['black', NAVY, RED], legend_names):
    fig.add_artist(Line2D([1625 / W, 1718 / W], [1 - yy / H, 1 - yy / H], color=color, lw=2, zorder=6))
    fig.text(1733 / W, 1 - (yy - 3) / H, name, fontsize=18, va='center', zorder=6)

# w* panels
w_minor = np.arange(.185, .32, .005)
ax = time_axes(fig, 105, 2173, 765, 2541, left_years, 2, w_ticks, w_names, (.18, .32), w_minor, 29, 31, 13)
series(ax, 1951, w_left_black, w_left_black_s, 'black')
series(ax, 1960, w_left_red, w_left_red_s, RED)
series(ax, 1972, w_left_blue, w_left_blue_s, NAVY)
ax.set_xlabel('Time (years)', fontsize=30, fontweight='bold', labelpad=0)

ax = time_axes(fig, 930, 2174, 2030, 2541, right_years, 5, w_ticks, w_names, (.18, .32), w_minor, 29, 31, 13)
series(ax, 2001, w_right_black, w_right_black_s, 'black')
series(ax, 2001, w_right_red, w_right_red_s, RED)
series(ax, 2001, w_right_blue, w_right_blue_s, NAVY)
ax.set_xlabel('Time (years)', fontsize=30, fontweight='bold', labelpad=0)

fig.text(1001 / W, 1 - 2148 / H, 'B) Annual Average 20°S-20°N w* (mm/s), 70 hPa', fontsize=31, ha='center', va='center')

# justified note on the right of panel C
renderer = fig.canvas.get_renderer()
note_left = 1127
note_right = 1997
note_y = [975, 1039, 1103, 1167, 1231, 1295, 1359, 1423]
for i, line in enumerate(note_lines):
    words = line.split(' ')
    texts = [fig.text(0, 1 - note_y[i] / H, w, fontsize=36, family='Lato', fontweight='normal', va='center') for w in words]
    widths = [t.get_window_extent(renderer).width for t in texts]
    if i < len(note_lines) - 1:
        gap = (note_right - note_left - sum(widths)) / (len(words) - 1)
    else:
        gap = 14
    x = note_left
    for t, wd in zip(texts, widths):
        t.set_x(x / W)
        x += wd + gap

fig.savefig('out.png', dpi=100)
